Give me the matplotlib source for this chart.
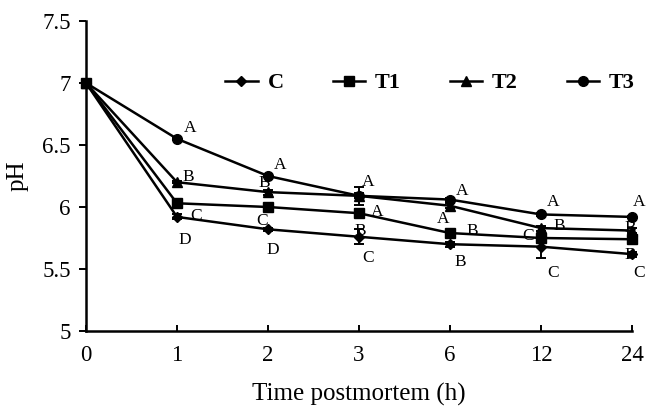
import matplotlib
matplotlib.use("Agg")
import matplotlib.pyplot as plt
import numpy as np

plt.rcParams['font.family'] = ['Liberation Serif', 'DejaVu Serif']

categories = ["0", "1", "2", "3", "6", "12", "24"]
series_names = ["C", "T1", "T2", "T3"]
ph_C = [7.00, 5.92, 5.82, 5.76, 5.70, 5.68, 5.62]
ph_T1 = [7.00, 6.03, 6.00, 5.95, 5.79, 5.75, 5.74]
ph_T2 = [7.00, 6.20, 6.12, 6.09, 6.01, 5.83, 5.81]
ph_T3 = [7.00, 6.55, 6.25, 6.09, 6.06, 5.94, 5.92]
err_C = [0.01, 0.02, 0.01, 0.06, 0.02, 0.09, 0.02]
err_T1 = [0.01, 0.01, 0.01, 0.03, 0.02, 0.02, 0.02]
err_T2 = [0.01, 0.01, 0.02, 0.02, 0.02, 0.02, 0.02]
err_T3 = [0.01, 0.01, 0.01, 0.07, 0.01, 0.01, 0.01]
markers = ["D", "s", "^", "o"]
marker_sizes = [5.5, 6.5, 6.5, 7]

# significance letters (category index, pH, letter)
letter_x = [1.14, 1.12, 1.21, 1.09, 2.13, 1.96, 1.93, 2.05,
            3.10, 3.20, 3.01, 3.10, 4.13, 3.92, 4.24, 4.11,
            5.13, 5.20, 4.86, 5.13, 6.08, 5.98, 5.98, 6.08]
letter_y = [6.64, 6.24, 5.93, 5.73, 6.34, 6.19, 5.89, 5.65,
            6.20, 5.96, 5.81, 5.59, 6.13, 5.90, 5.81, 5.56,
            6.04, 5.85, 5.77, 5.47, 6.04, 5.83, 5.61, 5.47]
letter_txt = ["A", "B", "C", "D", "A", "B", "C", "D",
              "A", "A", "B", "C", "A", "A", "B", "B",
              "A", "B", "C", "C", "A", "B", "B", "C"]

fig = plt.figure(figsize=(6.46, 4.08), dpi=100)
ax = fig.add_axes([86/646, 77/408, 546/646, 310/408])

x = np.arange(len(categories))
for vals, errs, name, m, ms in zip([ph_C, ph_T1, ph_T2, ph_T3],
                                   [err_C, err_T1, err_T2, err_T3],
                                   series_names, markers, marker_sizes):
    ax.errorbar(x, vals, yerr=errs, color='black', marker=m, markersize=ms,
                linewidth=1.8, elinewidth=1.4, capsize=3.5, capthick=1.4,
                label=name, clip_on=False)

for lx, ly, lt in zip(letter_x, letter_y, letter_txt):
    ax.text(lx, ly, lt, ha='center', va='center', fontsize=12.5, color='black')

ax.set_xlim(0, 6)
ax.set_ylim(5, 7.5)
ax.set_xticks(x)
ax.set_xticklabels(categories)
ax.set_yticks([5, 5.5, 6, 6.5, 7, 7.5])
ax.set_yticklabels(["5", "5.5", "6", "6.5", "7", "7.5"])
ax.spines['top'].set_visible(False)
ax.spines['right'].set_visible(False)
for s in ['left', 'bottom']:
    ax.spines[s].set_linewidth(1.8)
ax.tick_params(axis='x', direction='in', length=4, width=1.4, labelsize=16.5, pad=10)
ax.tick_params(axis='y', direction='out', length=5, width=1.4, labelsize=16.5, pad=6)
ax.set_xlabel("Time postmortem (h)", fontsize=18, labelpad=12)
ax.set_ylabel("pH", fontsize=18, labelpad=10)

handles, labels = ax.get_legend_handles_labels()
handles = [h[0] for h in handles]
ax.legend(handles, labels, loc='center', bbox_to_anchor=(0.63, 0.8), ncol=4,
          frameon=False, prop={'weight': 'bold', 'size': 16}, handlelength=1.45,
          columnspacing=2.2, handletextpad=0.45)

fig.savefig("out.png", dpi=100)
